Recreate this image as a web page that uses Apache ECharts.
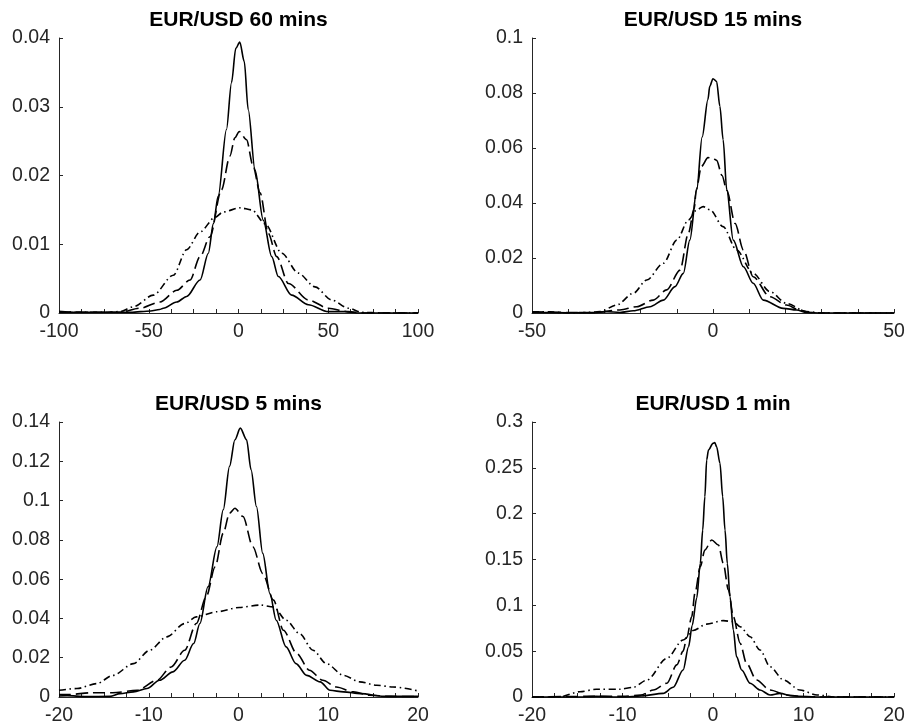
<!DOCTYPE html>
<html>
<head>
<meta charset="utf-8">
<title>EUR/USD return densities</title>
<script src="https://cdn.jsdelivr.net/npm/echarts@6/dist/echarts.min.js"></script>
<style>
  html, body { margin: 0; padding: 0; background: #fff; }
  #chart { width: 906px; height: 725px; }
</style>
</head>
<body>
<div id="chart"></div>
<script>
// Panel titles
const titles = ['EUR/USD 60 mins', 'EUR/USD 15 mins', 'EUR/USD 5 mins', 'EUR/USD 1 min'];

// Axis ranges [min, max, interval]
const xRanges = [[-100, 100, 50], [-50, 50, 50], [-20, 20, 10], [-20, 20, 10]];
const yRanges = [[0, 0.04, 0.01], [0, 0.1, 0.02], [0, 0.14, 0.02], [0, 0.3, 0.05]];
const xMinorSplits = [4, 5, 4, 4];

// 60-minute returns: [x, density]
const solid60 = [[-100,0.0002],[-90,0.0001],[-75,0.0001],[-60,0.0001],[-49,0.0003],[-44,0.0005],[-41.9,0.0007],[-34.4,0.0016],[-28.9,0.0024],[-21.4,0.0048],[-16.8,0.0087],[-14,0.013],[-11.3,0.017],[-6.7,0.0267],[-3.9,0.0335],[-1.5,0.0385],[0.7,0.0394],[3.2,0.0366],[5.4,0.0296],[9.2,0.0208],[13.8,0.0135],[18.5,0.0082],[22.2,0.0053],[29.6,0.0026],[38.9,0.0012],[50,0.0002],[59.3,0.0002],[66,0],[100,0]];
const dashed60 = [[-100,0.0001],[-80,0.0001],[-66,0.0001],[-54.9,0.0007],[-43.7,0.0016],[-34.4,0.0033],[-27,0.0048],[-21.4,0.0082],[-15.9,0.0111],[-9.5,0.0179],[-4.8,0.0228],[-2,0.0255],[0.4,0.0264],[4.5,0.0252],[8,0.0215],[12,0.0175],[16.6,0.0116],[21.3,0.0082],[27.8,0.0043],[38.9,0.0019],[50,0.0007],[61,0.0002],[70,0],[100,0]];
const dashdot60 = [[-100,0.0002],[-88,0.0001],[-76,0.0001],[-66,0.0002],[-58.6,0.0009],[-47.5,0.0026],[-36.3,0.0055],[-28.9,0.0092],[-21.4,0.0118],[-13.1,0.0139],[-8.5,0.0147],[0.8,0.0153],[7.4,0.015],[14.8,0.013],[24.1,0.0087],[33.3,0.0058],[42.6,0.0038],[51.9,0.0019],[61.2,0.0007],[68.6,0.0001],[80,0],[100,0]];

// 15-minute returns
const solid15 = [[-50,0.0002],[-40,0.0001],[-33,0],[-29.4,0.0005],[-25.7,0.0002],[-22,0.0008],[-17.4,0.0023],[-13.7,0.0047],[-10.5,0.0096],[-8.2,0.0144],[-6.4,0.0265],[-4.5,0.0447],[-3,0.064],[-1.4,0.0776],[-0.9,0.0824],[0,0.0852],[1,0.0842],[1.9,0.0752],[2.8,0.063],[3.8,0.0447],[5.6,0.0265],[8.4,0.0168],[11.1,0.0108],[13.9,0.0047],[19.4,0.0017],[23.1,0.0011],[25.8,0.0002],[30,0],[50,0]];
const dashed15 = [[-50,0.0004],[-40,0.0002],[-33,0.0002],[-25.7,0.0011],[-21.1,0.0023],[-16.5,0.0047],[-12.8,0.0084],[-9.1,0.0156],[-6.8,0.029],[-5.2,0.038],[-4.6,0.045],[-3.2,0.0533],[-1.4,0.0565],[0,0.0562],[1,0.0555],[2.5,0.05],[3.8,0.0447],[6.1,0.0326],[8.4,0.0229],[11.1,0.0132],[15.7,0.0059],[20.3,0.0029],[23.9,0.0011],[26.7,0.0002],[30,0],[50,0]];
const dashdot15 = [[-50,0.0004],[-45,0.0004],[-40,0],[-35,0.0002],[-31.2,0.0005],[-26.6,0.0029],[-22,0.0072],[-18.3,0.012],[-13.7,0.0181],[-10,0.0265],[-6.8,0.0338],[-4.5,0.0375],[-2.7,0.0387],[-0.8,0.0375],[2.8,0.0314],[6.5,0.0229],[11.1,0.0144],[15.7,0.0078],[20.3,0.0035],[25.8,0.0005],[30,0],[50,0]];

// 5-minute returns
const solid5 = [[-20,0.0005],[-19.1,0.0007],[-17,0.0002],[-14.3,0.0003],[-13.2,0.0017],[-11.7,0.0026],[-10.2,0.0043],[-8.8,0.0085],[-7.3,0.0128],[-6,0.0187],[-5,0.0272],[-4.3,0.0374],[-3.4,0.0561],[-2.4,0.0765],[-1.7,0.0953],[-1,0.1174],[-0.4,0.131],[0.2,0.1369],[0.9,0.131],[1.4,0.1157],[2,0.097],[2.7,0.0731],[3.5,0.0527],[4.2,0.0391],[5.3,0.0255],[6.4,0.017],[7.6,0.011],[9.1,0.0077],[10.2,0.0034],[11.7,0.0026],[13.6,0.0017],[16.2,0.0003],[20,0.0003]];
const dashed5 = [[-20,0.0012],[-19.1,0.0012],[-16.2,0.0022],[-14,0.0022],[-11.3,0.0034],[-9.1,0.0085],[-7.5,0.0153],[-6,0.0238],[-4.7,0.0374],[-3.6,0.051],[-2.6,0.0663],[-1.7,0.0834],[-1,0.0936],[-0.4,0.0961],[0.5,0.0919],[1.6,0.0765],[2.7,0.0629],[3.9,0.0493],[5,0.034],[6.5,0.0221],[7.9,0.0136],[9.4,0.0085],[10.9,0.0051],[12.8,0.0026],[14.6,0.0009],[17,0.0003],[20,0.0002]];
const dashdot5 = [[-20,0.0034],[-18,0.0043],[-15.8,0.0068],[-14,0.011],[-11.7,0.017],[-9.9,0.0238],[-8,0.0306],[-6,0.0374],[-4.7,0.0408],[-2.4,0.0434],[0.1,0.0456],[2.4,0.0468],[3.9,0.0459],[5.3,0.0391],[6.8,0.0323],[8.3,0.0238],[9.8,0.017],[11.7,0.011],[13.5,0.0077],[15.4,0.006],[17.2,0.0051],[20,0.0031]];

// 1-minute returns
const solid1 = [[-20,0],[-15,0],[-12.9,0.0007],[-10,0],[-7.9,0.0011],[-5.5,0.004],[-4.4,0.0106],[-3.3,0.0295],[-2.7,0.0549],[-2.3,0.078],[-1.8,0.108],[-1.4,0.1458],[-1.14,0.182],[-0.9,0.2185],[-0.7,0.2585],[-0.5,0.2695],[0,0.2767],[0.2,0.2775],[0.4,0.273],[0.77,0.255],[1.07,0.2185],[1.33,0.182],[1.58,0.1458],[1.88,0.1094],[2.25,0.0731],[2.6,0.044],[3.17,0.0295],[4.1,0.015],[5.2,0.0076],[6.3,0.0022],[7.4,0.004],[8.8,0.0011],[12,0],[20,0]];
const dashed1 = [[-20,0],[-13,0.0007],[-10,0.0007],[-8,0.002],[-6.6,0.0076],[-5.1,0.015],[-4,0.035],[-3.3,0.05],[-2.9,0.065],[-2.35,0.0876],[-2,0.1131],[-1.4,0.1422],[-0.9,0.1604],[-0.14,0.1713],[0.6,0.1658],[1.14,0.1458],[1.7,0.1167],[2.25,0.0876],[3,0.0586],[3.7,0.0368],[4.8,0.0185],[6.3,0.0076],[8.1,0.0022],[10,0.0005],[12,0],[20,0]];
const dashdot1 = [[-20,0],[-18,0],[-16.9,0.0003],[-14.7,0.0058],[-12.9,0.0084],[-10.3,0.0084],[-8.8,0.0106],[-7.3,0.0185],[-5.1,0.0422],[-3.3,0.0622],[-2.2,0.0725],[-0.7,0.0795],[1.14,0.0833],[2.25,0.0822],[3,0.0767],[4.1,0.0658],[5.2,0.0513],[6.3,0.0331],[7.8,0.0185],[9.6,0.0076],[11.5,0.0022],[13.5,0],[20,0]];

const panelSeries = [
  [solid60, dashed60, dashdot60],
  [solid15, dashed15, dashdot15],
  [solid5, dashed5, dashdot5],
  [solid1, dashed1, dashdot1]
];

// Grid placement of the 2x2 layout
const gridBoxes = [
  { left: 59,  top: 38,  width: 359, height: 275 },
  { left: 532, top: 38,  width: 362, height: 275 },
  { left: 59,  top: 422, width: 359, height: 275 },
  { left: 532, top: 422, width: 362, height: 275 }
];

const FONT = '"Liberation Sans", Arial, Helvetica, sans-serif';
const AXIS_COLOR = '#262626';
const lineTypes = ['solid', [12, 5], [7, 3.5, 1.5, 3.5]];

const chart = echarts.init(document.getElementById('chart'), null, { renderer: 'canvas' });

const grid = gridBoxes.map(b => Object.assign({ containLabel: false, outerBoundsMode: 'none' }, b));

const xAxis = xRanges.map((r, i) => ({
  type: 'value',
  gridIndex: i,
  min: r[0], max: r[1], interval: r[2],
  axisLine: { show: true, onZero: false, lineStyle: { color: AXIS_COLOR, width: 1 } },
  axisTick: { show: true, inside: true, length: 4, lineStyle: { color: AXIS_COLOR, width: 1 } },
  minorTick: { show: true, splitNumber: xMinorSplits[i], length: 4, lineStyle: { color: AXIS_COLOR, width: 1 } },
  splitLine: { show: false },
  axisLabel: { color: AXIS_COLOR, fontSize: 19.5, fontFamily: FONT, margin: 9, showMinLabel: true, showMaxLabel: true }
}));

const yAxis = yRanges.map((r, i) => ({
  type: 'value',
  gridIndex: i,
  min: r[0], max: r[1], interval: r[2],
  axisLine: { show: true, onZero: false, lineStyle: { color: AXIS_COLOR, width: 1 } },
  axisTick: { show: true, inside: true, length: 4, lineStyle: { color: AXIS_COLOR, width: 1 } },
  splitLine: { show: false },
  axisLabel: { color: AXIS_COLOR, fontSize: 19.5, fontFamily: FONT, margin: 9, showMinLabel: true, showMaxLabel: true }
}));

const series = [];
panelSeries.forEach((group, i) => {
  group.forEach((data, k) => {
    series.push({
      type: 'line',
      xAxisIndex: i,
      yAxisIndex: i,
      data: data,
      symbol: 'none',
      smooth: 0.3,
      smoothMonotone: 'x',
      silent: true,
      animation: false,
      lineStyle: { color: '#000', width: 1.6, type: lineTypes[k] }
    });
  });
});

// Panel titles drawn centred above each grid
const graphic = titles.map((t, i) => ({
  type: 'text',
  x: gridBoxes[i].left + gridBoxes[i].width / 2,
  y: gridBoxes[i].top - 18,
  silent: true,
  style: {
    text: t,
    fill: '#000',
    font: 'bold 21px ' + FONT,
    align: 'center',
    verticalAlign: 'middle',
    textAlign: 'center',
    textVerticalAlign: 'middle'
  }
}));

chart.setOption({
  animation: false,
  backgroundColor: '#fff',
  grid: grid,
  xAxis: xAxis,
  yAxis: yAxis,
  series: series,
  graphic: graphic
});
</script>
</body>
</html>
